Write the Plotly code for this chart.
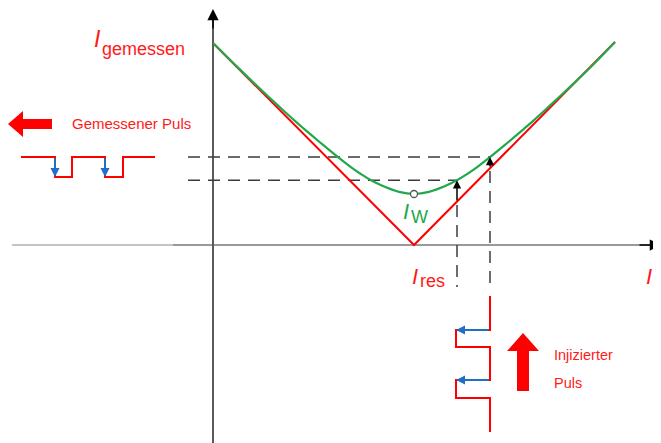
import plotly.graph_objects as go

# ---- data (x: load current I_L, y: measured current I_gemessen), origin at axis crossing ----
I_res = 201
red_IL = [0, 201, 402]
red_Imeas = [202, 0, 203]

green_IL = [0, 21, 41, 55, 68, 81, 91, 102, 111, 125, 141, 148, 158, 171, 186, 201,
            216, 231, 244, 254, 261, 277, 291, 300, 311, 321, 334, 347, 361, 381, 402]
green_Imeas = [202, 181.3, 161.9, 148.7, 136.7, 124.9, 116.2, 106.8, 99.3, 87.9, 75.6, 70.9, 64.7, 58.5, 53.1, 51,
               53.1, 58.5, 64.7, 70.9, 75.6, 87.9, 99.3, 106.8, 116.2, 124.9, 136.7, 148.7, 161.9, 181.3, 203]

op_IL = [244, 277]          # two working points of the injected pulse
op_green = [64.7, 87.9]     # measured current at working points (green curve)
op_red = [43, 77]           # red curve at working points

# injected pulse (drawn below the I_L axis)
inj_x = [277, 277, 243, 243, 277, 277, 243, 243, 277, 277]
inj_y = [-51, -85, -85, -102, -102, -135, -135, -153, -153, -187]
inj_arrow_y = [-85, -135]

# measured pulse (drawn left of the I axis)
meas_x = [-192, -158, -158, -141, -141, -108, -108, -90, -90, -58]
meas_y = [88, 88, 68, 68, 88, 88, 68, 68, 88, 88]
meas_arrow_x = [-158, -108]

RED = "#ff1a1a"
GREEN = "#22a84c"
BLUE = "#1f6fc5"
FONT = "Liberation Sans, Arial, sans-serif"

fig = go.Figure()

def line(x, y, color, width=2, dash=None, shape="linear"):
    fig.add_trace(go.Scatter(x=x, y=y, mode="lines",
                             line=dict(color=color, width=width, dash=dash, shape=shape),
                             hoverinfo="skip", showlegend=False))

# axes
line([-201, -40], [0, 0], "#c4c4c4", 2)
line([-40, 446], [0, 0], "#999999", 2)
line([0, 0], [-206, 230], "#5a5a5a", 2)

# dashed guide lines
for xi, g, r in zip(op_IL, op_green, op_red):
    line([-25, xi], [g, g], "#3c3c3c", 1.5, dash="12px,8px")
    line([xi, xi], [r - 3, -42], "#3c3c3c", 1.5, dash="12px,8px")

# curves
line(red_IL, red_Imeas, "#ff0000", 2)
line(green_IL, green_Imeas, GREEN, 2.2, shape="spline")

# pulses
line(inj_x, inj_y, "#ff0000", 2)
line(meas_x, meas_y, "#ff0000", 2)

# working-point marker
fig.add_trace(go.Scatter(x=[I_res], y=[min(green_Imeas)], mode="markers",
                         marker=dict(symbol="circle", size=7, color="white",
                                     line=dict(color="#555555", width=1.3)),
                         hoverinfo="skip", showlegend=False))

ann = []
def arrow(x, y, ax, ay, color, width=1.5, size=1.0, head=2):
    ann.append(dict(x=x, y=y, ax=ax, ay=ay, xref="x", yref="y", axref="x", ayref="y",
                    text="", showarrow=True, arrowhead=head, arrowsize=size,
                    arrowwidth=width, arrowcolor=color, standoff=0, startstandoff=0))

# axis arrows
arrow(0, 236, 0, 215, "black", 1.5, 1.5)
arrow(448, 0, 425, 0, "black", 1.5, 1.5)
# working-point arrows
for xi, g, r in zip(op_IL, op_green, op_red):
    arrow(xi, g, xi, r, "black", 1.5, 1.1)
# blue arrows of the pulses
for yy in inj_arrow_y:
    arrow(243, yy, 277, yy, BLUE, 2, 0.9)
for xx in meas_arrow_x:
    arrow(xx, 68, xx, 88, BLUE, 2, 0.9)

def text(x, y, s, size, color, xanchor="left", italic=False):
    ann.append(dict(x=x, y=y, xref="x", yref="y", text=("<i>%s</i>" % s) if italic else s,
                    showarrow=False, xanchor=xanchor, yanchor="middle",
                    font=dict(family=FONT, size=size, color=color)))

text(-116, 206.5, "I", 23, RED, "center", True)
text(-113, 196.2, "gemessen", 18, RED)
text(192.5, 34, "I", 22, GREEN, "center", True)
text(196, 28.2, "W", 18, GREEN)
text(201.5, -31.5, "I", 22, RED, "center", True)
text(205, -35.8, "res", 18, RED)
text(436, -31.5, "I", 22, RED, "center", True)
text(454, -35.8, "L", 18, RED, "right")   # partly cut by the right edge, as in the original
text(-143, 122, "Gemessener Puls", 15, RED)
text(339, -110, "Injizierter", 14.5, RED)
text(339, -138, "Puls", 14.5, RED)

# big block arrows
shapes = [
    dict(type="path", xref="x", yref="y",
         path="M -205 121 L -190 134 L -190 126 L -161 126 L -161 116 L -190 116 L -190 108 Z",
         fillcolor="#ff0000", line=dict(width=0)),
    dict(type="path", xref="x", yref="y",
         path="M 310 -88 L 326 -106 L 316 -106 L 316 -146 L 304 -146 L 304 -106 L 294 -106 Z",
         fillcolor="#ff0000", line=dict(width=0)),
]

# the page body has an 8px default margin, so the plot ranges are offset by 8px
fig.update_layout(
    width=661, height=443,
    margin=dict(l=0, r=0, t=0, b=0),
    paper_bgcolor="white", plot_bgcolor="white",
    xaxis=dict(range=[-205, 456], visible=False, fixedrange=True),
    yaxis=dict(range=[-206, 237], visible=False, fixedrange=True),
    annotations=ann, shapes=shapes, showlegend=False,
)

fig.write_html("out.html")
